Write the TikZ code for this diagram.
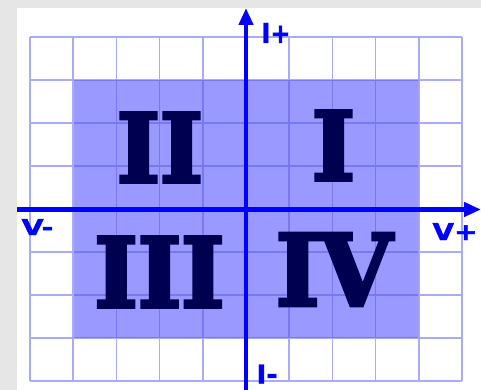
\documentclass[tikz,border=0pt]{standalone}
\usepackage{fontspec}
\usepackage{graphicx}
\usetikzlibrary{arrows.meta}
\newfontfamily\numfont{DejaVu Serif}[BoldFeatures={FakeBold=4}]
\newfontfamily\labfont{DejaVu Sans}[BoldFeatures={FakeBold=1.5}]
\definecolor{bggray}{RGB}{230,230,230}
\definecolor{shadec}{RGB}{153,153,255}
\definecolor{gridc}{RGB}{170,170,248}
\definecolor{gridd}{RGB}{120,120,240}
\definecolor{axisblue}{RGB}{0,0,255}
\definecolor{navyc}{RGB}{0,0,80}
\begin{document}
\begin{tikzpicture}[x=1pt,y=-1pt,
  gridline/.style={draw=gridc,line width=1.6pt},
  gridin/.style={draw=gridd,line width=1.6pt},
  axisline/.style={draw=axisblue,line width=4.5pt,-{Triangle[length=17pt,width=14pt]}},
  numeral/.style={inner sep=0pt,text=navyc,font=\numfont\bfseries},
  axlabel/.style={inner sep=0pt,text=axisblue,font=\labfont\bfseries}]
\useasboundingbox (0,0) rectangle (481,390);
\fill[bggray] (0,0) rectangle (481,390);
\fill[white] (17,8) rectangle (481,390);
\fill[shadec] (73.2,80) rectangle (418.8,338);
% grid
\foreach \i in {0,...,10}{
  \draw[gridline] ({30+43.2*\i},37) -- ({30+43.2*\i},381);
}
\foreach \j in {0,...,8}{
  \draw[gridline] (30,{37+43*\j}) -- (462,{37+43*\j});
}
\begin{scope}
\clip (74,81) rectangle (418,337);
\foreach \i in {0,...,10}{
  \draw[gridin] ({30+43.2*\i},37) -- ({30+43.2*\i},381);
}
\foreach \j in {0,...,8}{
  \draw[gridin] (30,{37+43*\j}) -- (462,{37+43*\j});
}
\end{scope}
% axes
\coordinate (xs) at (17,209.5);
\coordinate (xe) at (481,209.5);
\coordinate (ys) at (246,390);
\coordinate (ye) at (246,8);
\draw[axisline] (xs) -- (xe);
\draw[axisline] (ys) -- (ye);
% numerals
\node[numeral] (q2) at (160,147.5) {\resizebox{86pt}{69pt}{II}};
\node[numeral] (q1) at (333.5,145.5) {\resizebox{43pt}{69pt}{I}};
\node[numeral] (q3) at (159.5,272) {\resizebox{130pt}{70pt}{III}};
\node[numeral] (q4) at (334,269.5) {\resizebox{116pt}{72pt}{IV}};
% axis labels
\node[axlabel] (ip) at (276,33) {\resizebox{29pt}{20pt}{I+}};
\node[axlabel] (im) at (267,374) {\resizebox{21pt}{19pt}{I-}};
\node[axlabel] (vm) at (37.5,227) {\resizebox{32pt}{16pt}{V-}};
\node[axlabel] (vp) at (455,231.5) {\resizebox{45pt}{17pt}{V+}};
\end{tikzpicture}
\end{document}
